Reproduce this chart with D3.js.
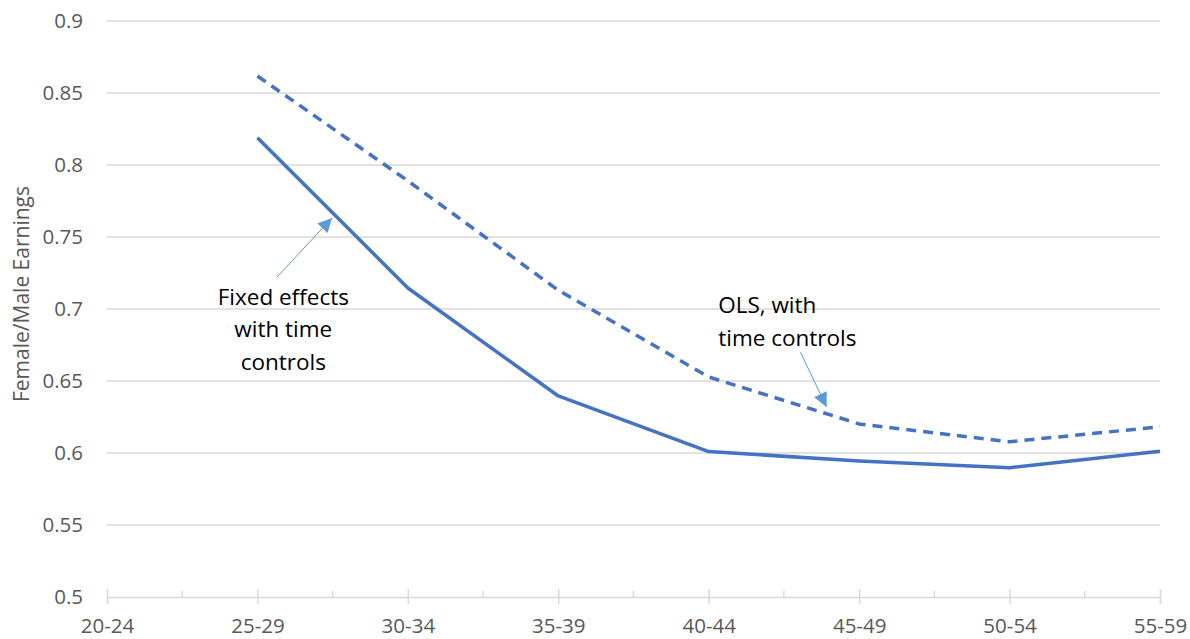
<!DOCTYPE html>
<html>
<head>
<meta charset="utf-8">
<script src="https://cdn.jsdelivr.net/npm/d3@7"></script>
<style>
    body { margin: 0; background: #fff; }
    svg { display: block; font-family: "Open Sans", "Noto Sans", sans-serif; }
</style>
</head>
<body>
<div id="chart"></div>
<script>
// age groups on the x axis
var ageGroups = ["20-24", "25-29", "30-34", "35-39", "40-44", "45-49", "50-54", "55-59"];
// fixed effects with time controls (solid); no value for 20-24
var fixedEffects = [null, 0.819, 0.7146, 0.6396, 0.601, 0.5945, 0.5898, 0.6012];
// OLS with time controls (dashed)
var olsValues = [null, 0.8618, 0.789, 0.713, 0.6528, 0.6202, 0.6078, 0.6182];
var yTicks = [0.5, 0.55, 0.6, 0.65, 0.7, 0.75, 0.8, 0.85, 0.9];

var width = 1190,
    height = 639;
var margin = {top: 21, right: 30, bottom: 42, left: 107};

var svg = d3.select("#chart")
    .append("svg")
    .attr("width", width)
    .attr("height", height);

var x = d3.scalePoint()
    .domain(ageGroups)
    .range([margin.left, width - margin.right])
    .padding(0);

var y = d3.scaleLinear()
    .domain([0.5, 0.9])
    .range([height - margin.bottom, margin.top]);

var step = x.step();
// position between categories: index plus a fraction of a step
function xAt(i) {
    return x(ageGroups[0]) + i * step;
}

// gridlines
svg.append("g")
    .selectAll("line")
    .data(yTicks.slice(1))
    .enter()
    .append("line")
    .attr("x1", margin.left)
    .attr("x2", width - margin.right)
    .attr("y1", function(d) { return y(d); })
    .attr("y2", function(d) { return y(d); })
    .attr("stroke", "#d9d9d9")
    .attr("stroke-width", 1.3);

// y tick labels
svg.append("g")
    .selectAll("text")
    .data(yTicks)
    .enter()
    .append("text")
    .attr("x", 83)
    .attr("y", function(d) { return y(d); })
    .attr("dy", "0.35em")
    .attr("text-anchor", "end")
    .attr("font-size", 20.5)
    .attr("fill", "#595959")
    .text(function(d) { return d3.format("")(+d.toFixed(2)); });

// y axis title
svg.append("text")
    .attr("transform", "translate(29,294) rotate(-90)")
    .attr("text-anchor", "middle")
    .attr("font-size", 21)
    .attr("fill", "#595959")
    .text("Female/Male Earnings");

// x axis
var xAxis = d3.axisBottom(x)
    .tickSize(7)
    .tickPadding(14);

var gx = svg.append("g")
    .attr("transform", "translate(0," + y(0.5) + ")")
    .call(xAxis);

gx.select(".domain")
    .attr("stroke", "#d9d9d9")
    .attr("stroke-width", 1.5);
gx.selectAll(".tick line")
    .attr("stroke", "#d9d9d9")
    .attr("stroke-width", 1.5)
    .attr("y1", -8);
gx.selectAll(".tick text")
    .attr("font-family", "\"Open Sans\", sans-serif")
    .attr("font-size", 20.5)
    .attr("fill", "#595959");

// minor ticks between categories
gx.append("g")
    .selectAll("line")
    .data(ageGroups.slice(1))
    .enter()
    .append("line")
    .attr("x1", function(d) { return x(d) - step / 2; })
    .attr("x2", function(d) { return x(d) - step / 2; })
    .attr("y1", -6)
    .attr("y2", 0)
    .attr("stroke", "#d9d9d9")
    .attr("stroke-width", 1.5);

// series lines
var line = d3.line()
    .defined(function(d) { return d != null; })
    .x(function(d, i) { return x(ageGroups[i]); })
    .y(function(d) { return y(d); });

svg.append("path")
    .datum(olsValues)
    .attr("fill", "none")
    .attr("stroke", "#4472c4")
    .attr("stroke-width", 3.5)
    .attr("stroke-dasharray", "10,7")
    .attr("d", line);

svg.append("path")
    .datum(fixedEffects)
    .attr("fill", "none")
    .attr("stroke", "#4472c4")
    .attr("stroke-width", 3.5)
    .attr("stroke-linejoin", "round")
    .attr("d", line);

// annotation arrows
svg.append("defs")
    .append("marker")
    .attr("id", "arrow")
    .attr("viewBox", "0 0 10 10")
    .attr("refX", 10)
    .attr("refY", 5)
    .attr("markerUnits", "userSpaceOnUse")
    .attr("markerWidth", 16)
    .attr("markerHeight", 14)
    .attr("orient", "auto")
    .append("path")
    .attr("d", "M0,0L10,5L0,10Z")
    .attr("fill", "#5b9bd5");

var arrows = [
    {x1: 1.13, y1: 0.7222, x2: 1.496, y2: 0.7632},
    {x1: 4.61, y1: 0.670, x2: 4.783, y2: 0.632}
];

svg.append("g")
    .selectAll("line")
    .data(arrows)
    .enter()
    .append("line")
    .attr("x1", function(d) { return xAt(d.x1); })
    .attr("y1", function(d) { return y(d.y1); })
    .attr("x2", function(d) { return xAt(d.x2); })
    .attr("y2", function(d) { return y(d.y2); })
    .attr("stroke", "#5b9bd5")
    .attr("stroke-width", 1)
    .attr("marker-end", "url(#arrow)");

// annotation labels
var feLabel = svg.append("text")
    .attr("text-anchor", "middle")
    .attr("font-size", 22.5)
    .attr("fill", "#000");
["Fixed effects", "with time", "controls"].forEach(function(t, i) {
    feLabel.append("tspan")
        .attr("x", xAt(1.172))
        .attr("y", y(0.7028) + i * 32.5)
        .text(t);
});

var olsLabel = svg.append("text")
    .attr("text-anchor", "start")
    .attr("font-size", 22.5)
    .attr("fill", "#000");
["OLS, with", "time controls"].forEach(function(t, i) {
    olsLabel.append("tspan")
        .attr("x", xAt(4.063))
        .attr("y", y(0.697) + i * 32.5)
        .text(t);
});
</script>
</body>
</html>
